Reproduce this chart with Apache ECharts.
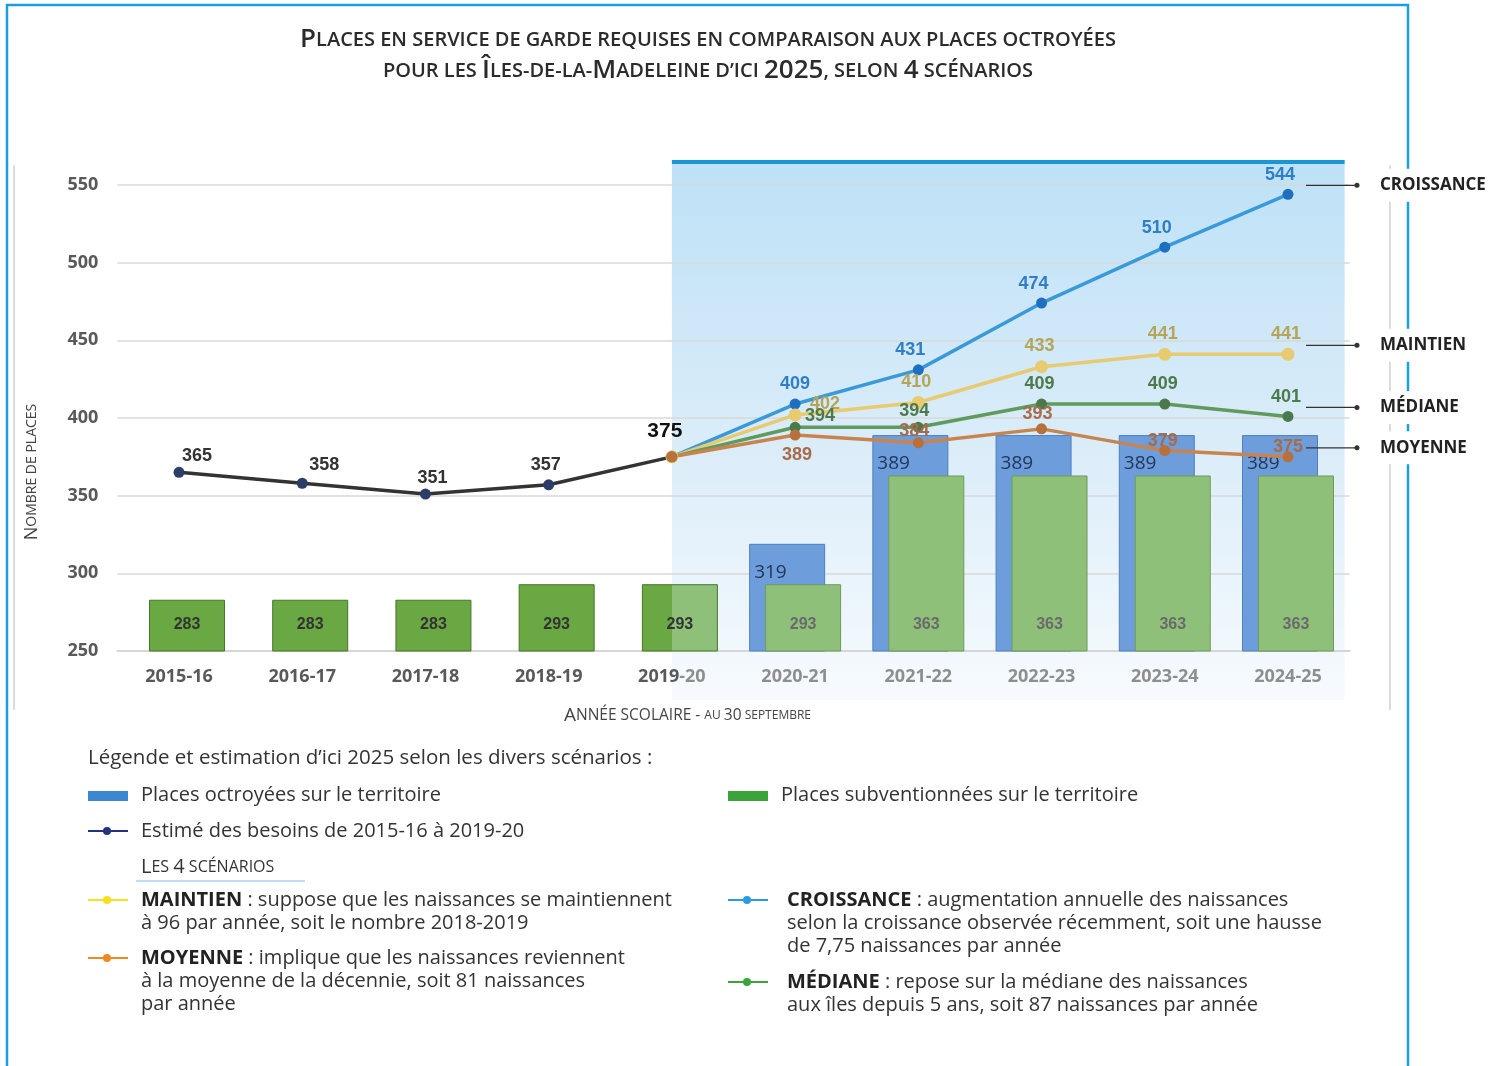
<!DOCTYPE html>
<html>
<head>
<meta charset="utf-8">
<script src="https://cdn.jsdelivr.net/npm/echarts@6/dist/echarts.min.js"></script>
<style>
  html, body { margin: 0; padding: 0; background: #fff; }
  #chart { width: 1505px; height: 1066px; }
</style>
</head>
<body>
<div id="chart"></div>
<script>
// données
const years = ['2015-16', '2016-17', '2017-18', '2018-19', '2019-20', '2020-21', '2021-22', '2022-23', '2023-24', '2024-25'];
const yTicks = [250, 300, 350, 400, 450, 500, 550];
const placesOctroyees = [null, null, null, null, null, 319, 389, 389, 389, 389];
const placesSubventionnees = [283, 283, 283, 293, 293, 293, 363, 363, 363, 363];
const besoins = [365, 358, 351, 357, 375, null, null, null, null, null];
const croissance = [null, null, null, null, 375, 409, 431, 474, 510, 544];
const maintien = [null, null, null, null, 375, 402, 410, 433, 441, 441];
const mediane = [null, null, null, null, 375, 394, 394, 409, 409, 401];
const moyenne = [null, null, null, null, 375, 389, 384, 393, 379, 375];

const debutProjection = years.indexOf('2019-20');

const BODY = '"Open Sans", "Noto Sans", sans-serif';
const NUM = '"Liberation Sans", Arial, sans-serif';

// petites capitales en texte riche
function smallCaps(str, big, small) {
  let out = '';
  let cur = null, buf = '';
  for (const ch of str) {
    const isBig = /[0-9]/.test(ch) || (ch !== ch.toLowerCase());
    const st = isBig ? big : small;
    if (st !== cur && buf) { out += '{' + cur + '|' + buf + '}'; buf = ''; }
    cur = st;
    buf += ch.toUpperCase();
  }
  if (buf) out += '{' + cur + '|' + buf + '}';
  return out;
}

// valeurs + réglages d'étiquettes
function withLabels(values, tweaks) {
  return values.map((v, i) => {
    if (v == null) return '-';
    if (tweaks[i]) return { value: v, label: tweaks[i] };
    return v;
  });
}

// couleur coupée en deux pour la barre à la frontière de la zone projetée
function split(dark, light, at) {
  return new echarts.graphic.LinearGradient(0, 0, 1, 0, [
    { offset: 0, color: dark }, { offset: at, color: dark },
    { offset: at, color: light }, { offset: 1, color: light }
  ]);
}

const chart = echarts.init(document.getElementById('chart'));

function lineSerie(name, values, lineColor, dotColor, labelColor, tweaks, baseOffset, symSize) {
  return {
    name: name,
    type: 'line',
    z: 5,
    data: withLabels(values, tweaks),
    symbol: 'circle',
    symbolSize: symSize || 11,
    lineStyle: { color: lineColor, width: 3.5 },
    itemStyle: { color: dotColor },
    label: {
      show: true,
      position: 'top',
      offset: baseOffset || [0, 0],
      color: labelColor,
      fontFamily: NUM,
      fontWeight: 'bold',
      fontSize: 18
    }
  };
}

const greenDark = '#69a842', greenLight = '#8fc07a';
const barreVerte = placesSubventionnees.map((v, i) => {
  if (i < debutProjection) return v;
  if (i === debutProjection) return { value: v, itemStyle: { color: split(greenDark, greenLight, 0.39) } };
  return { value: v, itemStyle: { color: greenLight, borderColor: '#6f9a5c' }, label: { color: '#6a6a6a' } };
});

const option = {
  animation: false,
  backgroundColor: '#fff',
  grid: { left: 117.4, right: 155.4, top: 185, bottom: 415 },
  xAxis: {
    type: 'category',
    data: years,
    axisLine: { lineStyle: { color: '#d6d6d6', width: 2 } },
    axisTick: { show: false },
    axisLabel: {
      interval: 0,
      fontFamily: BODY, fontWeight: 'bold', fontSize: 18, margin: 17,
      formatter: (val, i) => {
        if (i < debutProjection) return '{d|' + val + '}';
        if (i === debutProjection) return '{d|' + val.slice(0, 4) + '}{l|' + val.slice(4) + '}';
        return '{l|' + val + '}';
      },
      rich: {
        d: { color: '#595959', fontFamily: BODY, fontWeight: 'bold', fontSize: 18 },
        l: { color: '#8e8e8e', fontFamily: BODY, fontWeight: 'bold', fontSize: 18 }
      }
    },
    name: '{B|A}{s|NNÉE SCOLAIRE - }{t|AU }{u|30}{t| SEPTEMBRE}',
    nameLocation: 'middle',
    nameGap: 55,
    nameTextStyle: {
      padding: [0, 92, 0, 0],
      rich: {
        B: { fontFamily: BODY, fontSize: 19, color: '#444' },
        s: { fontFamily: BODY, fontSize: 15.5, color: '#444' },
        t: { fontFamily: BODY, fontSize: 12, color: '#444' },
        u: { fontFamily: BODY, fontSize: 15.5, color: '#444' }
      }
    }
  },
  yAxis: {
    type: 'value',
    min: yTicks[0],
    max: yTicks[yTicks.length - 1],
    interval: yTicks[1] - yTicks[0],
    axisLine: { show: false },
    axisTick: { show: false },
    splitLine: { lineStyle: { color: '#d9d9d9', width: 1.5 } },
    axisLabel: { color: '#595959', fontFamily: BODY, fontWeight: 'bold', fontSize: 18, margin: 19 }
  },
  series: [
    {
      name: 'Places octroyées sur le territoire',
      type: 'bar',
      z: 2,
      data: placesOctroyees.map(v => v == null ? '-' : v),
      barWidth: 76,
      barGap: '-79%',
      itemStyle: { color: '#6d9edb', borderColor: '#4f7fbf', borderWidth: 1 },
      label: {
        show: true,
        position: 'insideTopLeft',
        distance: 5,
        offset: [0, 14],
        color: '#22365a',
        fontFamily: BODY,
        fontSize: 19
      }
    },
    {
      name: 'Places subventionnées sur le territoire',
      type: 'bar',
      z: 2,
      data: barreVerte,
      barWidth: 76,
      itemStyle: { color: greenDark, borderColor: '#46752a', borderWidth: 1 },
      label: {
        show: true,
        position: 'insideBottom',
        distance: 19,
        color: '#333',
        fontFamily: '"Liberation Sans Narrow", "Liberation Sans", sans-serif',
        fontWeight: 'bold',
        fontSize: 16
      }
    },
    lineSerie('Estimé des besoins', besoins, '#333', '#2c3e66', '#333', {
      0: { offset: [18, 3] },
      1: { offset: [22, 1] },
      2: { offset: [7, 3] },
      3: { offset: [-3, 0] },
      4: { offset: [-7, -5], fontSize: 21, color: '#111' }
    }),
    lineSerie('Croissance', croissance, '#3a9ad9', '#1f6fc0', '#2f7ec6', {
      4: { show: false },
      5: { offset: [0, 0] }
    }, [-8, 0]),
    lineSerie('Maintien', maintien, '#e8ca70', '#e8ca70', '#b5a55a', {
      4: { show: false },
      5: { offset: [30, 10] }
    }, [-2, 0], 13),
    lineSerie('Médiane', mediane, '#5f9a5f', '#4a7a4a', '#4d7a4d', {
      4: { show: false },
      5: { offset: [25, 8] },
      6: { offset: [-4, 3] }
    }, [-2, 0]),
    lineSerie('Moyenne', moyenne, '#c8844f', '#b8703c', '#a56b4a', {
      4: { show: false },
      5: { position: 'bottom', offset: [2, 0] },
      6: { offset: [-4, 8] },
      7: { offset: [-4, 5] },
      8: { offset: [-2, 10] },
      9: { offset: [0, 10] }
    })
  ]
};

chart.setOption(option);

// éléments graphiques calculés à partir des axes
const gridRight = 1505 - 155.4;
const xStart = chart.convertToPixel({ xAxisIndex: 0 }, years[debutProjection]);
const xLast = chart.convertToPixel({ xAxisIndex: 0 }, years[years.length - 1]);
const yTop = chart.convertToPixel({ yAxisIndex: 0 }, yTicks[yTicks.length - 1]);

const graphics = [];

// cadre
graphics.push({ type: 'rect', z: 0, silent: true, shape: { x: 7, y: 5, width: 1401, height: 1075 }, style: { fill: null, stroke: '#1a9ee0', lineWidth: 2.5 } });
graphics.push({ type: 'line', z: 0, shape: { x1: 14, y1: 165, x2: 14, y2: 710 }, style: { stroke: '#dcdcdc', lineWidth: 2 } });
graphics.push({ type: 'line', z: 0, shape: { x1: 1390, y1: 165, x2: 1390, y2: 710 }, style: { stroke: '#dcdcdc', lineWidth: 2 } });

// titre
const titleRich = {
  B: { fontFamily: BODY, fontSize: 26, fontWeight: 600, fill: '#2b2b2b' },
  s: { fontFamily: BODY, fontSize: 20, fontWeight: 600, fill: '#2b2b2b' }
};
graphics.push({ type: 'text', z: 10, x: 708, y: 40, style: { text: smallCaps('Places en service de garde requises en comparaison aux places octroyées', 'B', 's'), rich: titleRich, align: 'center', verticalAlign: 'middle' } });
graphics.push({ type: 'text', z: 10, x: 708, y: 71, style: { text: smallCaps('pour les Îles-de-la-Madeleine d’ici 2025, selon 4 scénarios', 'B', 's'), rich: titleRich, align: 'center', verticalAlign: 'middle' } });

// titre de l'axe vertical
graphics.push({
  type: 'text', z: 10, x: 32, y: 472, rotation: Math.PI / 2,
  style: {
    text: '{B|N}{s|OMBRE DE PLACES}',
    rich: { B: { fontFamily: BODY, fontSize: 18, fill: '#444' }, s: { fontFamily: BODY, fontSize: 14, fill: '#444' } },
    align: 'center', verticalAlign: 'middle'
  }
});

// zone des projections (sous les barres)
graphics.push({
  type: 'rect', z: -1, silent: true,
  shape: { x: xStart, y: yTop - 25, width: gridRight - 5 - xStart, height: 700 - (yTop - 25) },
  style: {
    fill: new echarts.graphic.LinearGradient(0, 0, 0, 1, [
      { offset: 0, color: '#bde1f7' },
      { offset: 0.55, color: '#dcedf9' },
      { offset: 1, color: '#f7fbfe' }
    ])
  }
});
graphics.push({ type: 'rect', z: 4, silent: true, shape: { x: xStart, y: yTop - 25, width: gridRight - 5 - xStart, height: 4 }, style: { fill: '#1a96d4' } });

// étiquettes des scénarios à droite
const scenarios = [
  ['CROISSANCE', croissance],
  ['MAINTIEN', maintien],
  ['MÉDIANE', mediane],
  ['MOYENNE', moyenne]
];
scenarios.forEach(([name, vals]) => {
  const y = chart.convertToPixel({ yAxisIndex: 0 }, vals[vals.length - 1]) - 9;
  graphics.push({ type: 'line', z: 10, shape: { x1: xLast + 18, y1: y, x2: xLast + 69, y2: y }, style: { stroke: '#333', lineWidth: 1.2 } });
  graphics.push({ type: 'circle', z: 10, shape: { cx: xLast + 69, cy: y, r: 2.5 }, style: { fill: '#333' } });
  graphics.push({
    type: 'text', z: 10, x: 1376, y: y,
    style: { text: name, fontFamily: BODY, fontWeight: 'bold', fontSize: 17, fill: '#222', align: 'left', verticalAlign: 'middle', backgroundColor: '#fff', padding: [8, 4] }
  });
});

// légende
const TXT = { fontFamily: BODY, fontSize: 20, fill: '#333' };
function txt(x, y, text, extra) {
  return { type: 'text', z: 10, x: x, y: y, style: Object.assign({ text: text, verticalAlign: 'middle', align: 'left' }, TXT, extra || {}) };
}
function para(x, yFirst, text) {
  return {
    type: 'text', z: 10, x: x, y: yFirst - 11.5,
    style: Object.assign({
      text: text, verticalAlign: 'top', align: 'left', lineHeight: 23,
      rich: { b: { fontFamily: BODY, fontSize: 20, fontWeight: 'bold', fill: '#222', lineHeight: 23 } }
    }, TXT)
  };
}
function legendLine(x, y, color) {
  graphics.push({ type: 'line', z: 10, shape: { x1: x, y1: y, x2: x + 40, y2: y }, style: { stroke: color, lineWidth: 2 } });
  graphics.push({ type: 'circle', z: 10, shape: { cx: x + 19, cy: y, r: 4 }, style: { fill: color } });
}

graphics.push(txt(88, 758, 'Légende et estimation d’ici 2025 selon les divers scénarios :', { fontSize: 20.5 }));
graphics.push({ type: 'rect', z: 10, shape: { x: 88, y: 791, width: 40, height: 10 }, style: { fill: '#3b87d0' } });
graphics.push(txt(141, 795, 'Places octroyées sur le territoire'));
graphics.push({ type: 'rect', z: 10, shape: { x: 728, y: 791, width: 40, height: 10 }, style: { fill: '#3aa43a' } });
graphics.push(txt(781, 795, 'Places subventionnées sur le territoire'));
legendLine(88, 831, '#25317a');
graphics.push(txt(141, 831, 'Estimé des besoins de 2015-16 à 2019-20'));
graphics.push({
  type: 'text', z: 10, x: 141, y: 867,
  style: {
    text: smallCaps('Les 4 scénarios', 'B', 's'),
    rich: { B: { fontFamily: BODY, fontSize: 20, fill: '#333' }, s: { fontFamily: BODY, fontSize: 16, fill: '#333' } },
    verticalAlign: 'middle', align: 'left'
  }
});
graphics.push({ type: 'line', z: 10, shape: { x1: 136, y1: 881, x2: 305, y2: 881 }, style: { stroke: '#a9d3ef', lineWidth: 1.5 } });

legendLine(88, 900, '#f5e11c');
graphics.push(para(141, 900, '{b|MAINTIEN} : suppose que les naissances se maintiennent\nà 96 par année, soit le nombre 2018-2019'));
legendLine(88, 958, '#ee8a22');
graphics.push(para(141, 958, '{b|MOYENNE} : implique que les naissances reviennent\nà la moyenne de la décennie, soit 81 naissances\npar année'));
legendLine(728, 900, '#2a9be0');
graphics.push(para(787, 900, '{b|CROISSANCE} : augmentation annuelle des naissances\nselon la croissance observée récemment, soit une hausse\nde 7,75 naissances par année'));
legendLine(728, 982, '#3aa43a');
graphics.push(para(787, 982, '{b|MÉDIANE} : repose sur la médiane des naissances\naux îles depuis 5 ans, soit 87 naissances par année'));

chart.setOption({ graphic: graphics });
</script>
</body>
</html>
